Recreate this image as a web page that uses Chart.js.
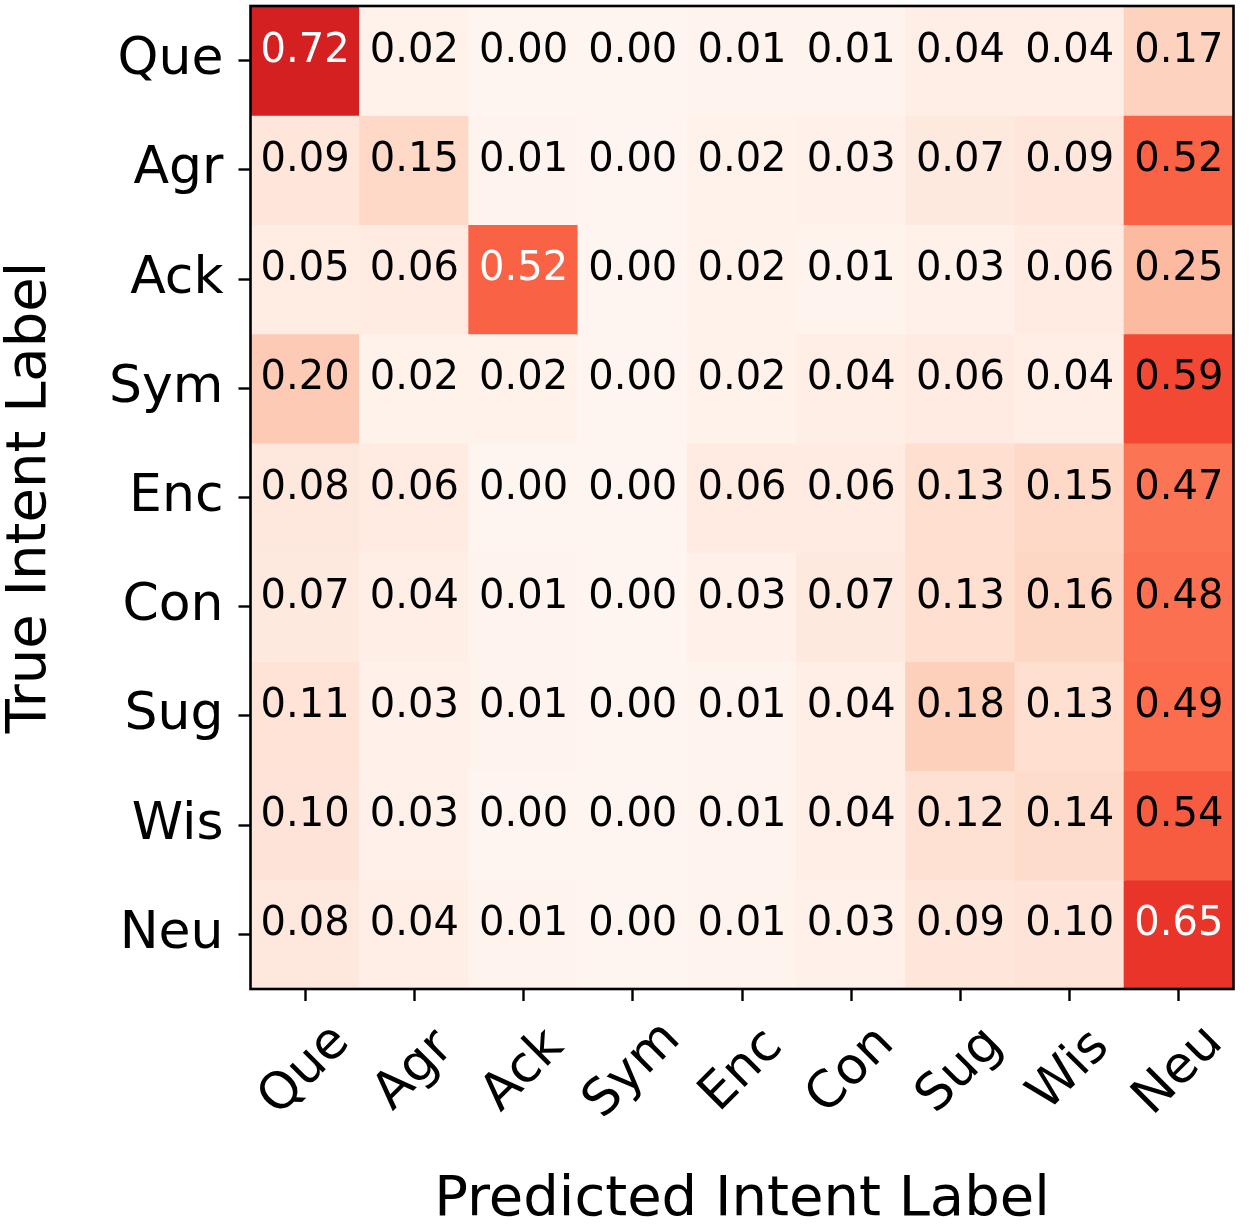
<!DOCTYPE html>
<html>
<head>
<meta charset="utf-8">
<script src="https://cdn.jsdelivr.net/npm/chart.js@4/dist/chart.umd.min.js"></script>
<style>
  body { margin: 0; background: #fff; }
  #wrap { width: 1250px; height: 1227px; }
</style>
</head>
<body>
<div id="wrap"><canvas id="cm"></canvas></div>
<script>
"use strict";

// Labels (true on rows, predicted on columns)
const rowLabels = ["Que", "Agr", "Ack", "Sym", "Enc", "Con", "Sug", "Wis", "Neu"];
const colLabels = ["Que", "Agr", "Ack", "Sym", "Enc", "Con", "Sug", "Wis", "Neu"];

// Normalized confusion matrix, one array per true label
const queRow = [0.72, 0.02, 0.00, 0.00, 0.01, 0.01, 0.04, 0.04, 0.17];
const agrRow = [0.09, 0.15, 0.01, 0.00, 0.02, 0.03, 0.07, 0.09, 0.52];
const ackRow = [0.05, 0.06, 0.52, 0.00, 0.02, 0.01, 0.03, 0.06, 0.25];
const symRow = [0.20, 0.02, 0.02, 0.00, 0.02, 0.04, 0.06, 0.04, 0.59];
const encRow = [0.08, 0.06, 0.00, 0.00, 0.06, 0.06, 0.13, 0.15, 0.47];
const conRow = [0.07, 0.04, 0.01, 0.00, 0.03, 0.07, 0.13, 0.16, 0.48];
const sugRow = [0.11, 0.03, 0.01, 0.00, 0.01, 0.04, 0.18, 0.13, 0.49];
const wisRow = [0.10, 0.03, 0.00, 0.00, 0.01, 0.04, 0.12, 0.14, 0.54];
const neuRow = [0.08, 0.04, 0.01, 0.00, 0.01, 0.03, 0.09, 0.10, 0.65];

const matrix = [queRow, agrRow, ackRow, symRow, encRow, conRow, sugRow, wisRow, neuRow];

// matplotlib "Reds" colormap stops
const redsStops = [
  [255, 245, 240], [254, 224, 210], [252, 187, 161], [252, 146, 114],
  [251, 106, 74], [239, 59, 44], [203, 24, 29], [165, 15, 21], [103, 0, 13]
];

function reds(v) {
  const t = Math.min(Math.max(v, 0), 1) * (redsStops.length - 1);
  const i = Math.min(Math.floor(t), redsStops.length - 2);
  const f = t - i;
  const a = redsStops[i], b = redsStops[i + 1];
  const c = a.map((ch, k) => Math.round(ch + (b[k] - ch) * f));
  return `rgb(${c[0]}, ${c[1]}, ${c[2]})`;
}

const FONT = "'DejaVu Sans', sans-serif";

// One floating-bar dataset per row, spanning [row, row + 1] on the y scale
const datasets = matrix.map((row, r) => ({
  label: rowLabels[r],
  data: row.map(() => [r, r + 1]),
  backgroundColor: row.map((v) => reds(v)),
  borderWidth: 0,
  inflateAmount: 0.6,
  barPercentage: 1,
  categoryPercentage: 1,
  grouped: false,
}));

// Cell values, frame and rotated x tick labels
const matrixPlugin = {
  id: "matrixText",
  afterDatasetsDraw(chart) {
    const { ctx, scales: { x, y } } = chart;
    ctx.save();
    ctx.font = `40px ${FONT}`;
    ctx.textAlign = "center";
    ctx.textBaseline = "alphabetic";
    matrix.forEach((row, r) => {
      row.forEach((v, c) => {
        ctx.fillStyle = r === c && v > 0.5 ? "#ffffff" : "#000000";
        ctx.fillText(v.toFixed(2), x.getPixelForValue(c), y.getPixelForValue(r + 0.5) + 1);
      });
    });
    ctx.restore();
  },
  afterDraw(chart) {
    const { ctx, chartArea: area, scales: { x } } = chart;
    ctx.save();
    ctx.strokeStyle = "#000000";
    ctx.lineWidth = 2.6;
    ctx.strokeRect(area.left, area.top, area.right - area.left, area.bottom - area.top);

    ctx.fillStyle = "#000000";
    ctx.font = `51px ${FONT}`;
    ctx.textAlign = "center";
    ctx.textBaseline = "middle";
    colLabels.forEach((label, c) => {
      ctx.save();
      ctx.translate(x.getPixelForValue(c), area.bottom + 82);
      ctx.rotate(-Math.PI / 4);
      ctx.fillText(label, 0, 0);
      ctx.restore();
    });
    ctx.restore();
  },
};

const ctx = document.getElementById("cm").getContext("2d");
new Chart(ctx, {
  type: "bar",
  data: { labels: colLabels, datasets },
  options: {
    responsive: true,
    maintainAspectRatio: false,
    animation: false,
    devicePixelRatio: 1,
    layout: { padding: { top: 6, right: 16.5, left: 0, bottom: 0 } },
    plugins: { legend: { display: false }, tooltip: { enabled: false } },
    scales: {
      x: {
        type: "category",
        offset: true,
        grid: {
          offset: false,
          drawOnChartArea: false,
          drawTicks: true,
          tickLength: 12,
          tickWidth: 2.4,
          tickColor: "#000000",
        },
        border: { display: false },
        ticks: { display: false },
        title: {
          display: true,
          text: "Predicted Intent Label",
          color: "#000000",
          font: { family: FONT, size: 56, lineHeight: 0.94 },
          padding: 0,
        },
        afterFit(scale) {
          scale.height = 238;
          scale.paddingLeft = 0;
          scale.paddingRight = 0;
        },
      },
      y: {
        type: "linear",
        min: 0,
        max: 9,
        reverse: true,
        afterBuildTicks(scale) {
          scale.ticks = rowLabels.map((_, i) => ({ value: i + 0.5 }));
        },
        grid: {
          drawOnChartArea: false,
          drawTicks: true,
          tickLength: 12,
          tickWidth: 2.4,
          tickColor: "#000000",
        },
        border: { display: false },
        ticks: {
          color: "#000000",
          padding: 15,
          font: { family: FONT, size: 52 },
          callback: (v) => rowLabels[Math.floor(v)],
        },
        title: {
          display: true,
          text: "True Intent Label",
          color: "#000000",
          font: { family: FONT, size: 56, lineHeight: 1.1 },
          padding: 0,
        },
        afterFit(scale) {
          scale.width = 250.5;
          scale.paddingTop = 0;
          scale.paddingBottom = 0;
        },
      },
    },
  },
  plugins: [matrixPlugin],
});
</script>
</body>
</html>
